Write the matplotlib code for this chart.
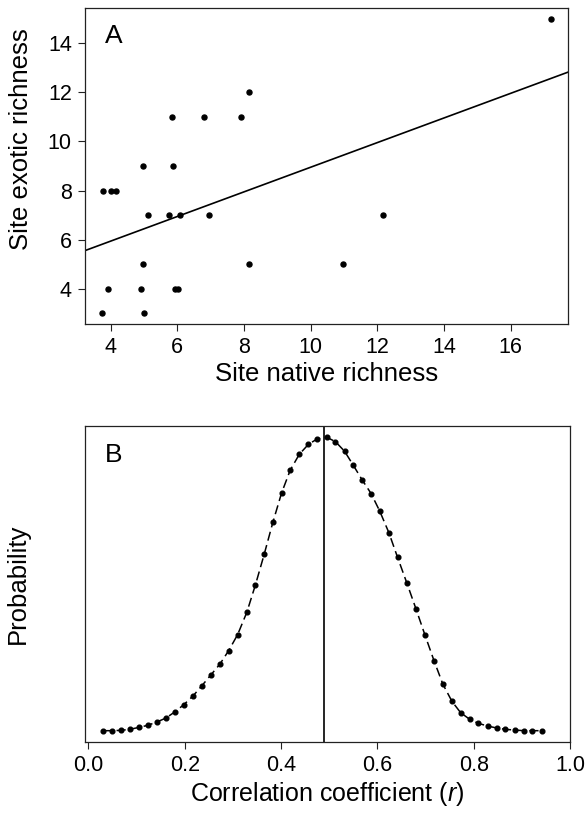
import matplotlib
matplotlib.use("Agg")
import matplotlib.pyplot as plt
import numpy as np

plt.rcParams['font.family'] = ['Liberation Sans', 'DejaVu Sans']
plt.rcParams['mathtext.fontset'] = 'custom'
plt.rcParams['mathtext.rm'] = 'Liberation Sans'
plt.rcParams['mathtext.it'] = 'Liberation Sans:italic'

# Panel A data
native = [17.2, 8.15, 5.85, 6.81, 7.91, 4.96, 5.88, 3.77, 4.01, 4.16,
          5.11, 5.75, 6.08, 6.94, 12.16, 4.98, 8.15, 10.97, 3.92, 4.90,
          5.93, 6.01, 3.75, 5.01]
exotic = [15, 12, 11, 11, 11, 9, 9, 8, 8, 8,
          7, 7, 7, 7, 7, 5, 5, 5, 4, 4,
          4, 4, 3, 3]
fit_intercept = 3.93
fit_slope = 0.502
a_xticks = [4, 6, 8, 10, 12, 14, 16]
a_yticks = [4, 6, 8, 10, 12, 14]

# Panel B data
r_vals = [0.030, 0.049, 0.067, 0.086, 0.105, 0.123, 0.142, 0.161, 0.179, 0.198,
          0.217, 0.235, 0.254, 0.273, 0.291, 0.310, 0.329, 0.347, 0.365, 0.383,
          0.401, 0.419, 0.438, 0.457, 0.475, 0.495, 0.513, 0.532, 0.550, 0.568,
          0.587, 0.605, 0.624, 0.642, 0.661, 0.680, 0.699, 0.718, 0.736, 0.755,
          0.773, 0.792, 0.810, 0.829, 0.848, 0.866, 0.885, 0.904, 0.922, 0.941]
prob = [0.0034, 0.0034, 0.0035, 0.0038, 0.0044, 0.0050, 0.0060, 0.0072, 0.0090, 0.0112,
        0.0138, 0.0168, 0.0201, 0.0234, 0.0274, 0.0323, 0.0390, 0.0473, 0.0564, 0.0660,
        0.0748, 0.0817, 0.0865, 0.0895, 0.0911, 0.0916, 0.0903, 0.0874, 0.0832, 0.0789,
        0.0747, 0.0694, 0.0629, 0.0555, 0.0479, 0.0401, 0.0321, 0.0243, 0.0174, 0.0122,
        0.0088, 0.0068, 0.0056, 0.0048, 0.0042, 0.0038, 0.0036, 0.0034, 0.0034, 0.0034]
observed_r = 0.49
b_xticks = [0.0, 0.2, 0.4, 0.6, 0.8, 1.0]
b_xticklabels = ['0.0', '0.2', '0.4', '0.6', '0.8', '1.0']

W, H = 585, 815
fig = plt.figure(figsize=(W / 100, H / 100), dpi=100)

def frac(l, t, r, b):
    return [l / W, 1 - b / H, (r - l) / W, (b - t) / H]

axA = fig.add_axes(frac(85, 8, 568, 324))
axB = fig.add_axes(frac(85, 426, 570, 742))

for ax in (axA, axB):
    for s in ax.spines.values():
        s.set_linewidth(0.9)
        s.set_color('#222222')
    ax.tick_params(direction='out', length=5, width=0.8, labelsize=15.5, pad=4.5,
                   colors='#222222', labelcolor='black')

# Panel A
axA.plot(native, exotic, 'o', color='black', markersize=3.6, linestyle='none')
xl = np.array([3.23, 17.72])
axA.plot(xl, fit_intercept + fit_slope * xl, color='black', linewidth=1.2)
axA.set_xlim(3.23, 17.72)
axA.set_ylim(2.56, 15.44)
axA.set_xticks(a_xticks)
axA.set_yticks(a_yticks)
axA.set_xlabel('Site native richness', fontsize=18.5, labelpad=3)
axA.set_ylabel('Site exotic richness', fontsize=18.5)
axA.yaxis.set_label_coords(-0.108, 0.585)
axA.text(0.041, 0.889, 'A', transform=axA.transAxes, fontsize=19, va='baseline', ha='left')

# Panel B
axB.plot(r_vals, prob, color='black', linewidth=1.1, linestyle=(0, (6, 3)))
axB.plot(r_vals, prob, 'o', color='black', markersize=3.4, linestyle='none')
axB.axvline(observed_r, color='black', linewidth=1.2)
axB.set_xlim(-0.007, 1.0)
axB.set_ylim(0, 0.095)
axB.set_xticks(b_xticks)
axB.set_xticklabels(b_xticklabels)
axB.set_yticks([])
axB.set_xlabel('Correlation coefficient ($\\mathit{r}$)', fontsize=18, labelpad=3)
axB.set_ylabel('Probability', fontsize=18.5, labelpad=40)
axB.text(0.041, 0.886, 'B', transform=axB.transAxes, fontsize=19, va='baseline', ha='left')

fig.savefig('out.png', dpi=100)
